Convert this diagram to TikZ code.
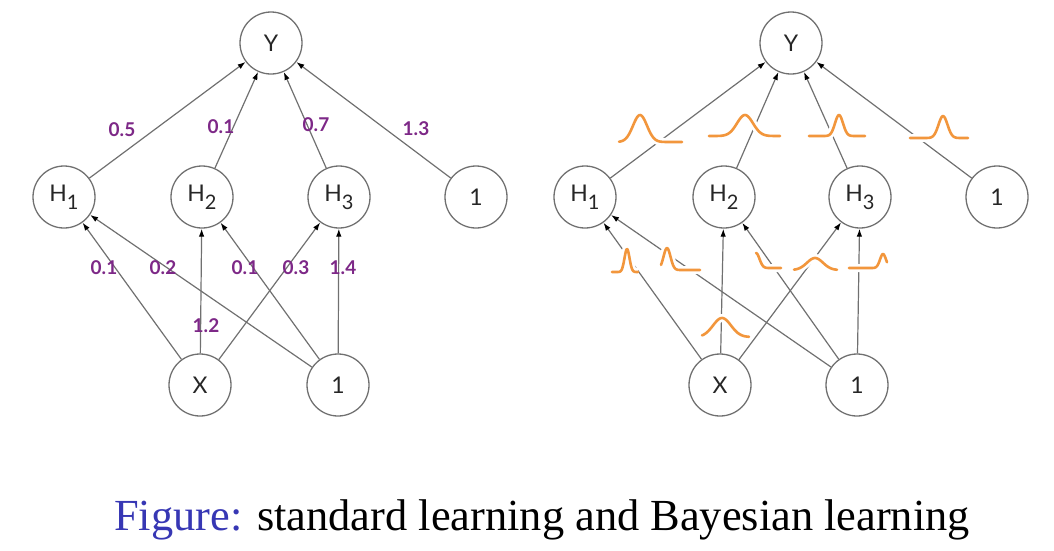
\documentclass[tikz,border=0pt]{standalone}
\usepackage{fontspec}
\setmainfont{Liberation Serif}
\newfontfamily\nodefont{Lato}
\usetikzlibrary{arrows.meta}
\definecolor{capblue}{RGB}{55,55,180}
\definecolor{wpurple}{RGB}{125,40,135}
\definecolor{borange}{RGB}{242,150,60}
\definecolor{edgegray}{RGB}{112,112,112}
\newcommand\nsub[1]{\raisebox{-8pt}{\fontsize{20}{20}\selectfont #1}}
\begin{document}
\begin{tikzpicture}[x=1pt,y=-1pt,
  unit/.style={circle,draw=edgegray,line width=1.3pt,minimum size=62pt,inner sep=0pt,text=black!85,font=\nodefont\fontsize{23}{23}\selectfont},
  edge/.style={draw=edgegray,line width=1.2pt,-{Latex[black,length=8pt,width=5.5pt]}},
  wlab/.style={text=wpurple,font=\nodefont\bfseries\fontsize{19}{19}\selectfont,inner sep=0pt},
  bump/.style={draw=borange,line width=2.6pt,line cap=round,line join=round,preaction={draw=white,line width=8pt}}
]
\useasboundingbox (0,0) rectangle (1054,550);
% ---------- left network ----------
\node[unit] (Y)  at (271,43) {Y};
\node[unit] (H1) at (64,197)  {H\nsub{1}};
\node[unit] (H2) at (202,197) {H\nsub{2}};
\node[unit] (H3) at (339,197) {H\nsub{3}};
\node[unit] (B1) at (476,197) {1};
\node[unit] (X)  at (200,385) {X};
\node[unit] (B0) at (338,385) {1};
\draw[edge] (H1) -- (Y);
\draw[edge] (H2) -- (Y);
\draw[edge] (H3) -- (Y);
\draw[edge] (B1) -- (Y);
\draw[edge] (X) -- (H1);
\draw[edge] (X) -- (H2);
\draw[edge] (X) -- (H3);
\draw[edge] (B0) -- (H1);
\draw[edge] (B0) -- (H2);
\draw[edge] (B0) -- (H3);
\node[wlab] (w1) at (122,130) {0.5};
\node[wlab] (w2) at (221,127) {0.1};
\node[wlab] (w3) at (316,125) {0.7};
\node[wlab] (w4) at (416,129) {1.3};
\node[wlab] (w5) at (104,268) {0.1};
\node[wlab] (w6) at (163,268) {0.2};
\node[wlab] (w7) at (245,268) {0.1};
\node[wlab] (w8) at (296,268) {0.3};
\node[wlab] (w9) at (343,268) {1.4};
\node[wlab] (w10) at (206,326) {1.2};
% ---------- right network ----------
\node[unit] (rY)  at (791,43) {Y};
\node[unit] (rH1) at (585,197) {H\nsub{1}};
\node[unit] (rH2) at (724,197) {H\nsub{2}};
\node[unit] (rH3) at (860,197) {H\nsub{3}};
\node[unit] (rB1) at (997,197) {1};
\node[unit] (rX)  at (720,385) {X};
\node[unit] (rB0) at (857,385) {1};
\draw[edge] (rH1) -- (rY);
\draw[edge] (rH2) -- (rY);
\draw[edge] (rH3) -- (rY);
\draw[edge] (rB1) -- (rY);
\draw[edge] (rX) -- (rH1);
\draw[edge] (rX) -- (rH2);
\draw[edge] (rX) -- (rH3);
\draw[edge] (rB0) -- (rH1);
\draw[edge] (rB0) -- (rH2);
\draw[edge] (rB0) -- (rH3);
% distributions
\draw[bump] plot[domain=619:682,samples=60,smooth] (\x,{142-27*exp(-((\x-640)^2)/(2*7*7))});
\draw[bump] plot[domain=709:780,samples=60,smooth] (\x,{136-21*exp(-((\x-745)^2)/(2*8*8))});
\draw[bump] plot[domain=809:865,samples=60,smooth] (\x,{136-21*exp(-((\x-839)^2)/(2*4*4))});
\draw[bump] plot[domain=910:968,samples=60,smooth] (\x,{138-22*exp(-((\x-943)^2)/(2*4.5*4.5))});
\draw[bump] plot[domain=612:638,samples=50,smooth] (\x,{272-23*exp(-((\x-627)^2)/(2*2.5*2.5))});
\draw[bump] plot[domain=661:700,samples=50,smooth] (\x,{270-22*exp(-((\x-667)^2)/(2*3.5*3.5))});
\draw[bump] plot[domain=756:781,samples=50,smooth] (\x,{268-15*exp(-((\x-756)^2)/(2*3.5*3.5))});
\draw[bump] plot[domain=794:837,samples=50,smooth] (\x,{270-12*exp(-((\x-815)^2)/(2*8*8))});
\draw[bump] plot[domain=849:887,samples=50,smooth] (\x,{268-14*exp(-((\x-883)^2)/(2*3*3))});
\draw[bump] plot[domain=702:749,samples=50,smooth] (\x,{337-19*exp(-((\x-722)^2)/(2*9*9))});
% caption
\node[anchor=base west,inner sep=0pt,font=\fontsize{44.4}{50}\selectfont] (cap) at (114,530) {\textcolor{capblue}{Figure:} standard learning and Bayesian learning};
\end{tikzpicture}
\end{document}
